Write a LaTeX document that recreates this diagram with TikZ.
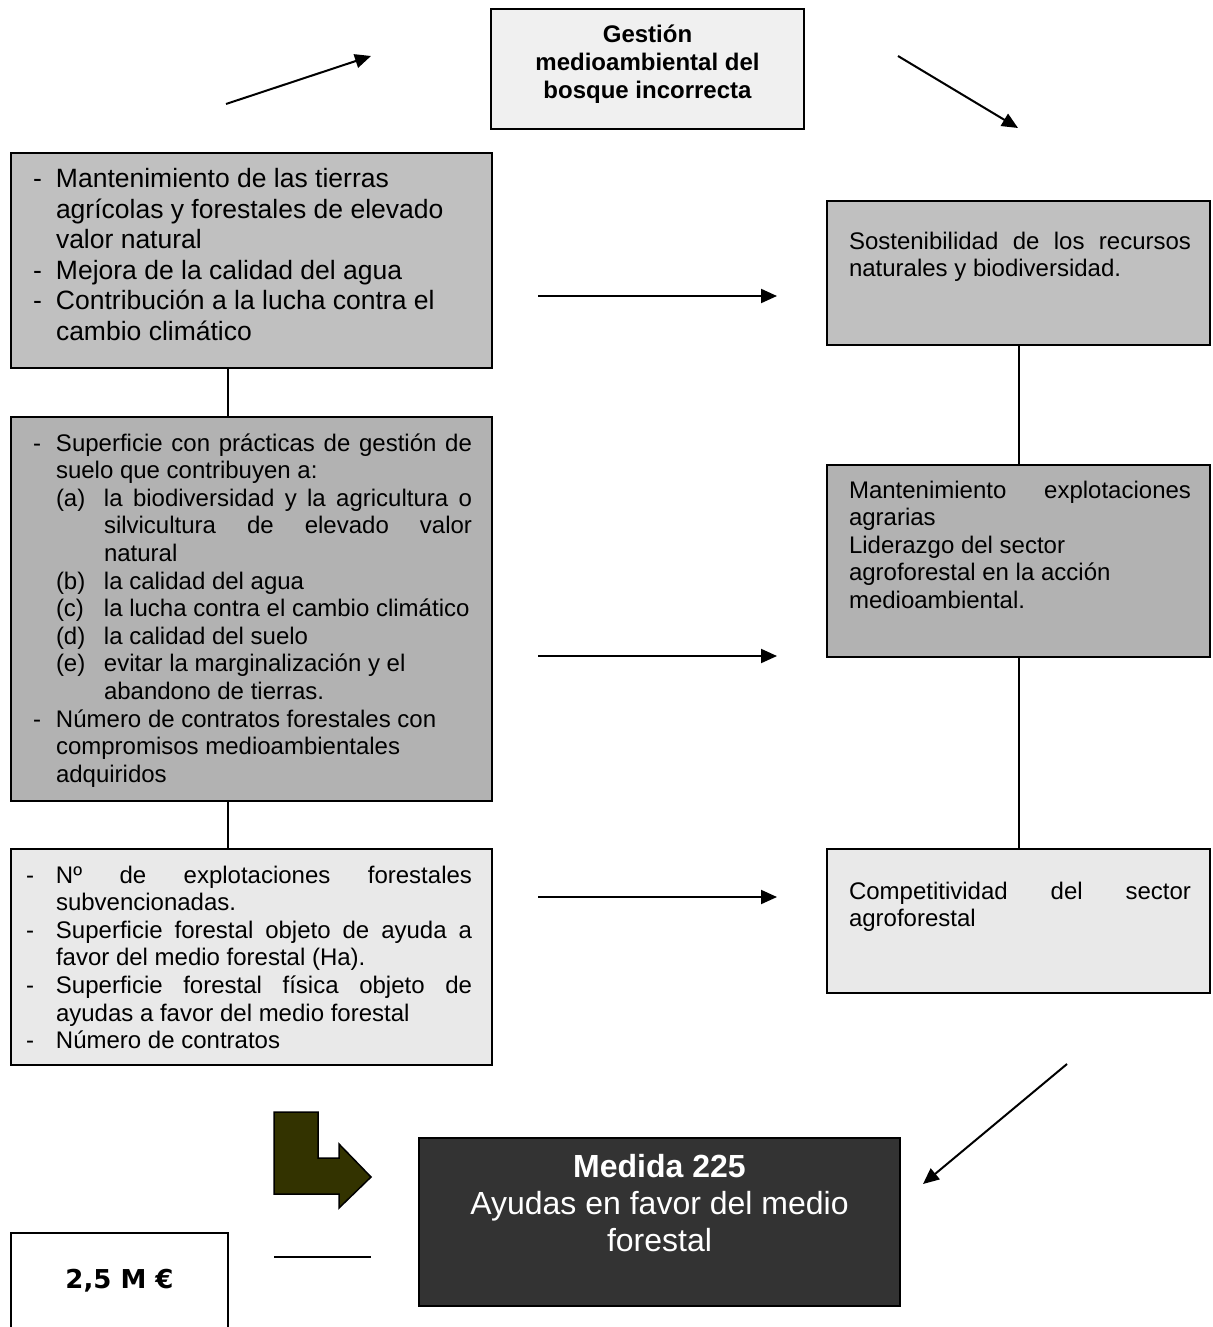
\documentclass[tikz,border=0pt]{standalone}
\usepackage{fontspec}
\setmainfont{Liberation Sans}
\newfontfamily\verdanafont{DejaVu Sans}
\usetikzlibrary{arrows.meta}

\definecolor{palegray}{HTML}{F0F0F0}
\definecolor{midgray}{HTML}{C0C0C0}
\definecolor{dotgray}{HTML}{B2B2B2}
\definecolor{softgray}{HTML}{E9E9E9}
\definecolor{darkpanel}{HTML}{333333}
\definecolor{olivearrow}{HTML}{333300}

% width, height, left pad, right pad, top pad, text
\newcommand{\panelbody}[6]{\parbox[c][#2][t]{#1}{\leftskip=#3\relax\rightskip=#4\relax\vspace*{#5}#6\par}}
\newcommand{\dashitem}[2]{\hangindent=#1\hangafter=1\noindent\makebox[#1][l]{-}#2\par}
\newcommand{\letteritem}[2]{\hangindent=35.5pt\hangafter=1\noindent\hspace*{11.5pt}\makebox[24pt][l]{#1}#2\par}

\begin{document}
\begin{tikzpicture}[x=0.5pt, y=-0.5pt,
    panel/.style={draw, line width=1pt, inner sep=0pt, anchor=north west},
    link/.style={line width=1pt},
    pointer/.style={line width=1pt, -{Triangle[length=8pt, width=7pt]}}]

    \useasboundingbox (0,0) rectangle (1213,1327);

    % Vertices
    \node[panel, fill=palegray](gestion) at (490,8){\panelbody{156.5pt}{60pt}{0pt}{0pt}{7.34pt}{\centering\bfseries\fontsize{12}{13.8}\selectfont\strut Gestión\\ medioambiental del\\ bosque incorrecta}};
    \node[panel, fill=midgray](mantTierras) at (10,152){\panelbody{240.5pt}{107.5pt}{11pt}{0pt plus 1fil}{6.8pt}{\fontsize{13.25}{15.25}\selectfont
        \dashitem{11.5pt}{\strut Mantenimiento de las tierras\\ agrícolas y forestales de elevado\\ valor natural}
        \dashitem{11.5pt}{Mejora de la calidad del agua}
        \dashitem{11.5pt}{Contribución a la lucha contra el\\ cambio climático}}};
    \node[panel, fill=dotgray](indicadores) at (10,416){\panelbody{240.5pt}{192pt}{11pt}{10pt}{7.34pt}{\fontsize{12}{13.8}\selectfont
        \dashitem{11.5pt}{\strut Superficie con prácticas de gestión de\linebreak suelo que contribuyen a:}
        \letteritem{(a)}{la biodiversidad y la agricultura o\linebreak silvicultura de elevado valor\linebreak natural}
        \letteritem{(b)}{la calidad del agua}
        \letteritem{(c)}{la lucha contra el cambio climático}
        \letteritem{(d)}{la calidad del suelo}
        \letteritem{(e)}{evitar la marginalización y el\\ abandono de tierras.}
        \dashitem{11.5pt}{Número de contratos forestales con\\ compromisos medioambientales\\ adquiridos}}};
    \node[panel, fill=softgray](realizaciones) at (10,848){\panelbody{240.5pt}{108pt}{7.5pt}{10pt}{7.34pt}{\fontsize{12}{13.8}\selectfont
        \dashitem{15pt}{\strut Nº de explotaciones forestales\linebreak subvencionadas.}
        \dashitem{15pt}{Superficie forestal objeto de ayuda a\linebreak favor del medio forestal (Ha).}
        \dashitem{15pt}{Superficie forestal física objeto de\linebreak ayudas a favor del medio forestal}
        \dashitem{15pt}{Número de contratos}}};
    \node[panel, fill=midgray](sostenibilidad) at (826,200){\panelbody{191.5pt}{72pt}{11pt}{9.5pt}{14.34pt}{\fontsize{12}{13.8}\selectfont
        \noindent\strut Sostenibilidad de los recursos\linebreak naturales y biodiversidad.}};
    \node[panel, fill=dotgray](explotaciones) at (826,464){\panelbody{191.5pt}{96pt}{11pt}{9.5pt}{6.84pt}{\fontsize{12}{13.8}\selectfont
        \noindent\strut Mantenimiento explotaciones\linebreak agrarias\par
        \noindent Liderazgo del sector\\ agroforestal en la acción\\ medioambiental.}};
    \node[panel, fill=softgray](competitividad) at (826,848){\panelbody{191.5pt}{72pt}{11pt}{9.5pt}{15.34pt}{\fontsize{12}{13.8}\selectfont
        \noindent\strut Competitividad del sector\linebreak agroforestal}};
    \node[panel, fill=darkpanel, text=white](medida) at (418,1137){\panelbody{240.5pt}{84pt}{0pt}{0pt}{7.1pt}{\centering\fontsize{16}{18.4}\selectfont\strut\textbf{Medida 225}\\ Ayudas en favor del medio\\ forestal}};
    \node[panel, fill=white](presupuesto) at (10,1232){\panelbody{108.5pt}{56.5pt}{0pt}{0pt}{16.6pt}{\centering\verdanafont\bfseries\fontsize{13}{15.6}\selectfont\strut 2,5 M €}};

    % Free ends
    \coordinate (lspine) at (228,0);
    \coordinate (upLeftA) at (226,104);
    \coordinate (upLeftB) at (371,56);
    \coordinate (upRightA) at (898,56);
    \coordinate (upRightB) at (1018,128);
    \coordinate (rowOneA) at (538,296);
    \coordinate (rowOneB) at (777,296);
    \coordinate (rowTwoA) at (538,656);
    \coordinate (rowTwoB) at (777,656);
    \coordinate (rowThreeA) at (538,897);
    \coordinate (rowThreeB) at (777,897);
    \coordinate (downA) at (1067,1064);
    \coordinate (downB) at (923,1184);
    \coordinate (budgetA) at (274,1257);
    \coordinate (budgetB) at (371,1257);

    % Edges
    \draw[pointer](upLeftA) -- (upLeftB);
    \draw[pointer](upRightA) -- (upRightB);
    \draw[pointer](rowOneA) -- (rowOneB);
    \draw[pointer](rowTwoA) -- (rowTwoB);
    \draw[pointer](rowThreeA) -- (rowThreeB);
    \draw[pointer](downA) -- (downB);
    \draw[link](mantTierras.south -| lspine) -- (indicadores.north -| lspine);
    \draw[link](indicadores.south -| lspine) -- (realizaciones.north -| lspine);
    \draw[link](sostenibilidad) -- (explotaciones);
    \draw[link](explotaciones) -- (competitividad);
    \draw[link](budgetA) -- (budgetB);

    % Bent arrow
    \filldraw[fill=olivearrow, draw=black, line width=0.75pt] (274,1112) -- (318,1112) -- (318,1158) -- (339,1158) -- (339,1144) -- (371,1177) -- (339,1208) -- (339,1194) -- (274,1194) -- cycle;

\end{tikzpicture}
\end{document}
